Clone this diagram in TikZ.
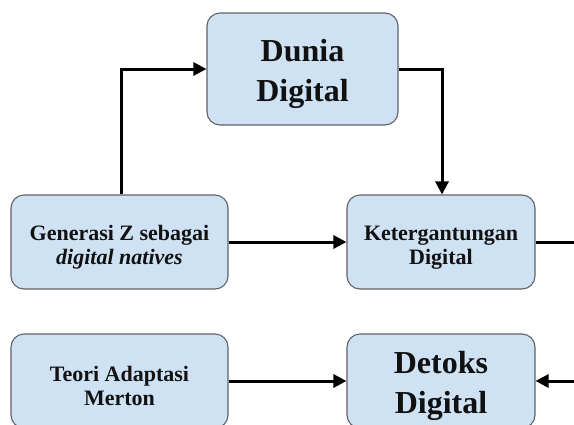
\documentclass[tikz,border=0pt]{standalone}
\usepackage{fontspec}
\setmainfont{Liberation Serif}
\usetikzlibrary{arrows.meta}
\definecolor{boxfill}{HTML}{CFE2F3}
\definecolor{boxline}{HTML}{5F6368}
\definecolor{inkcol}{HTML}{111111}
% invisible struts on the first line push each label a little lower in its box
\newcommand{\lowbig}{\rule{0pt}{32pt}}
\newcommand{\lowsmall}{\rule{0pt}{25pt}}
\begin{document}
\begin{tikzpicture}[x=1pt,y=-1pt,
  box/.style={draw=boxline, line width=1.1pt, fill=boxfill, rounded corners=13pt,
    align=center, inner sep=0pt, text=inkcol},
  smalltext/.style={font=\fontsize{22}{24}\selectfont\bfseries},
  bigtext/.style={font=\fontsize{32}{40}\selectfont\bfseries},
  link/.style={draw=black, line width=3pt, -{Triangle[length=13pt,width=13pt]}},
  plainlink/.style={draw=black, line width=3pt}]
\useasboundingbox (0,0) rectangle (574,424);

% boxes
\node[box, bigtext, minimum width=191pt, minimum height=112pt] (dunia) at (302.5,69) {\lowbig Dunia\\Digital};
\node[box, smalltext, minimum width=217pt, minimum height=94pt] (gen) at (119.5,242) {\lowsmall Generasi Z sebagai\\\textit{digital natives}};
\node[box, smalltext, minimum width=188pt, minimum height=94pt] (ket) at (441,242) {\lowsmall Ketergantungan\\Digital};
\node[box, smalltext, minimum width=217pt, minimum height=94pt] (teori) at (119.5,381) {\lowsmall Teori Adaptasi\\Merton};
\node[box, bigtext, minimum width=188pt, minimum height=94pt] (detoks) at (441,381) {\lowbig Detoks\\Digital};

% free ends at the right border
\coordinate (edgeA) at (574,242);
\coordinate (edgeB) at (574,381);

% connectors
\draw[link] ([xshift=1.5pt]gen.north) |- (dunia.west);
\draw[link] (dunia.east) -| ([xshift=1pt]ket.north);
\draw[link] (gen.east) -- (ket.west);
\draw[plainlink] (ket.east) -- (edgeA);
\draw[link] (teori.east) -- (detoks.west);
\draw[link] (edgeB) -- (detoks.east);
\end{tikzpicture}
\end{document}
